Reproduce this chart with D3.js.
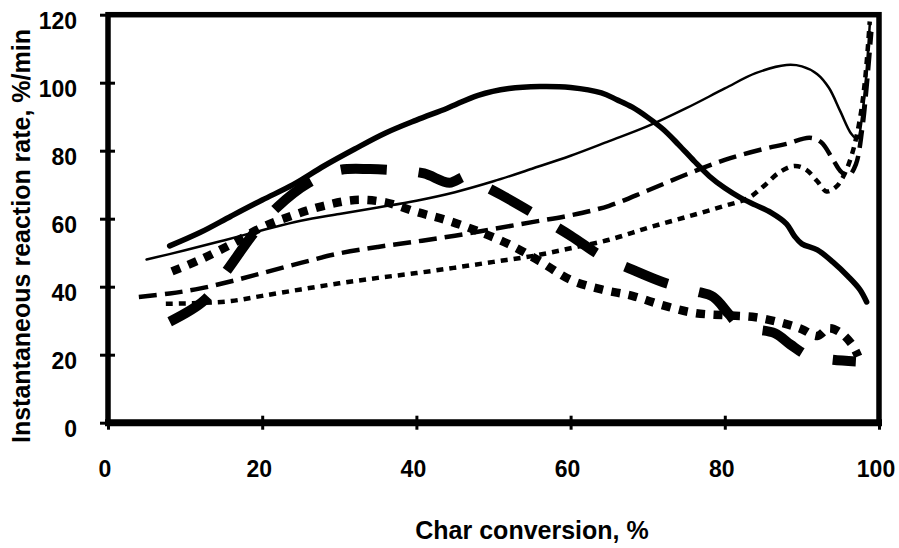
<!DOCTYPE html>
<html><head><meta charset="utf-8">
<script src="https://cdn.jsdelivr.net/npm/d3@7/dist/d3.min.js"></script>
<style>body{margin:0;background:#fff}svg{display:block}text{font-family:"Liberation Sans",Arial,sans-serif;font-weight:bold;fill:#000}</style>
</head><body><svg id="c" width="899" height="548"></svg>
<script>
const xTicks = [0, 20, 40, 60, 80, 100];
const yTicks = [0, 20, 40, 60, 80, 100, 120];
const xTitle = "Char conversion, %";
const yTitle = "Instantaneous reaction rate, %/min";

// thick solid
const s1 = [[8,52],[12,56],[16,60.8],[20,65.5],[24,70],[28,75.5],[32,80.5],[36,85.2],[40,89],[44,92.5],[48,96.3],[52,98.3],[56,98.9],[60,98.6],[64,97],[66,95],[68,92.8],[70,89.8],[72,86.3],[74,81.8],[76,77],[78,72.5],[80,69],[82,66.2],[84,64],[86,61.8],[88,58.5],[89,55],[90,52.6],[92,50.8],[94,47.3],[96,43],[97.5,39.2],[98.4,35.5]];
// thin solid
const s2 = [[5,48],[10,50.7],[15,53.6],[20,56.6],[25,59.4],[30,61.4],[35,63.3],[40,65.3],[45,67.8],[50,71],[55,74.7],[60,78.5],[65,82.8],[70,87.2],[75,92.5],[80,98.3],[84,102.8],[88,105.2],[90,104.8],[92,102.5],[93.5,98.5],[95,91.5],[96.4,85],[97.2,83.5],[97.8,90],[98.3,101],[98.8,117]];
// medium dashed
const s3 = [[4,37],[8,38],[12,39.5],[16,41.6],[20,44],[25,47],[30,49.8],[35,51.7],[40,53.3],[45,55],[50,57],[55,59],[60,61],[65,63.8],[70,68.3],[75,73],[80,77.3],[85,80.5],[88,82],[91,83.8],[92.5,82.5],[94,77.5],[95,74],[96,72.5],[97,76],[97.8,86],[98.4,99],[99,115]];
// fine dotted
const s4 = [[7.5,35],[12,35.2],[16,35.8],[20,37.3],[25,39.2],[30,41],[35,42.6],[40,44],[45,45.6],[50,47.3],[55,49],[60,51.3],[65,53.8],[70,57.3],[75,60.5],[80,63.8],[83,66],[85,69.5],[87,73.5],[89,75.5],[90.5,74.5],[92,71],[93.2,68],[94.5,69.5],[95.5,73],[96.5,79],[97.5,89],[98.2,101],[98.8,118]];
// heavy long dash
const s5 = [[8,29.7],[12.5,36],[15.5,45],[19,56],[22,63.5],[26,70.5],[30,74.3],[34,74.6],[38,74.1],[41,73.3],[44.3,70.6],[46.5,72.5],[48,70.6],[51,67],[55,61.8],[60,55],[64,49],[68,45],[72,41.3],[76,38.8],[78.5,37],[80.5,32],[82,28.5],[86.5,26.3],[88.5,23],[91,19.5],[94,18.5],[97,18]];
// heavy square dots
const s6 = [[8.3,44.5],[12,48],[16,52.5],[20,57.5],[24,61],[28,63.8],[32,65.5],[36,64.8],[40,62],[44,59.5],[48,56.3],[52,52.5],[56,47.5],[60,42],[64,39.2],[68,37.3],[72,34.5],[76,32.3],[80,31.6],[84,31],[88,29],[90,27.5],[92,25.5],[93.5,27.8],[95,26.5],[96.5,23],[97.3,19.5]];

const series = [
  {data: s1, w: 5.5, dash: null},
  {data: s2, w: 2.5, dash: null},
  {data: s3, w: 4.5, dash: "18,8"},
  {data: s4, w: 4.5, dash: "7,6"},
  {data: s5, w: 10, dash: "46,32"},
  {data: s6, w: 8.5, dash: "9,8.5"}
];

const svg = d3.select("#c");
const x = d3.scaleLinear().domain([0, 100]).range([108, 879]);
const y = d3.scaleLinear().domain([0, 120]).range([422.7, 14.7]);

const line = d3.line().x(d => x(d[0])).y(d => y(d[1])).curve(d3.curveCatmullRom.alpha(0.5));

const g = svg.append("g");
series.forEach(s => {
  g.append("path").attr("d", line(s.data)).attr("fill", "none").attr("stroke", "#000")
    .attr("stroke-width", s.w).attr("stroke-dasharray", s.dash)
    .attr("stroke-linejoin", "round").attr("stroke-linecap", s.dash ? "butt" : "round");
});

// frame
svg.append("rect").attr("x", x(0)).attr("y", y(120)).attr("width", x(100) - x(0)).attr("height", y(0) - y(120))
  .attr("fill", "none").attr("stroke", "#000").attr("stroke-width", 5.5);
svg.append("line").attr("x1", x(0) - 3).attr("x2", x(100) + 3).attr("y1", y(0)).attr("y2", y(0))
  .attr("stroke", "#000").attr("stroke-width", 7);

const xa = svg.append("g").attr("transform", `translate(0,${y(0)})`)
  .call(d3.axisBottom(x).tickValues(xTicks).tickFormat(d3.format("d")).tickSize(6).tickPadding(0));
xa.select(".domain").remove();
xa.selectAll(".tick line").attr("y1", -7).attr("y2", 7).attr("stroke-width", 3);
xa.selectAll(".tick text").attr("y", 54).attr("dy", null).attr("dx", -3.5)
  .style("font-size", "23px").style("font-family", "'Liberation Sans',Arial,sans-serif").style("font-weight", "bold").attr("fill", "#000");

const ya = svg.append("g").attr("transform", `translate(${x(0)},0)`)
  .call(d3.axisLeft(y).tickValues(yTicks).tickFormat(d3.format("d")).tickSize(6));
ya.select(".domain").remove();
ya.selectAll(".tick line").attr("x1", -8).attr("x2", 7).attr("stroke-width", 3);
ya.selectAll(".tick text").attr("x", -31).attr("dy", null).attr("y", 13.7).attr("text-anchor", "end")
  .style("font-size", "23px").style("font-family", "'Liberation Sans',Arial,sans-serif").style("font-weight", "bold").attr("fill", "#000");

svg.append("text").attr("x", 532).attr("y", 539).attr("text-anchor", "middle").style("font-size", "25px").text(xTitle);
svg.append("text").attr("transform", "translate(30,236) rotate(-90)").attr("text-anchor", "middle").style("font-size", "25px").text(yTitle);
</script></body></html>
